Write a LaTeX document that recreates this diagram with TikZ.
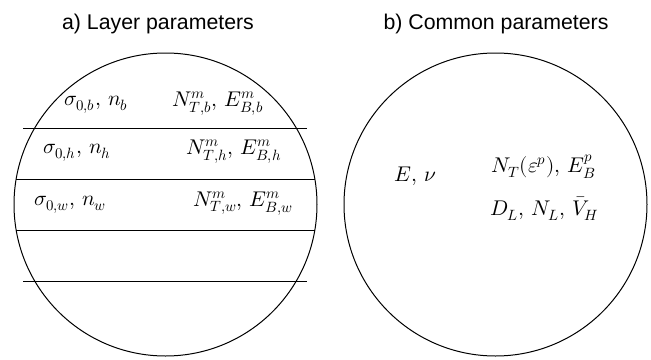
\documentclass[tikz,border=0pt]{standalone}
\usepackage{fontspec}
\usepackage{unicode-math}
\setmathfont{Latin Modern Math}
\newfontfamily\titlefont{Liberation Sans}
\begin{document}
\begin{tikzpicture}[x=1pt,y=-1pt,
  ring/.style={draw,line width=1pt},
  layer/.style={line width=1pt},
  ttl/.style={font=\titlefont\fontsize{21.3}{24}\selectfont,inner sep=0pt,anchor=base},
  mth/.style={font=\fontsize{21.3}{25}\selectfont,inner sep=0pt}]
\useasboundingbox (0,0) rectangle (651,359);
% titles
\node[ttl] (ta) at (158,29) {a) Layer parameters};
\node[ttl] (tb) at (496,29) {b) Common parameters};
% circles
\node[ring,circle,minimum size=303pt,inner sep=0pt] (ca) at (165.5,204.5) {};
\node[ring,circle,minimum size=303pt,inner sep=0pt] (cb) at (495.5,204.5) {};
% layer lines
\coordinate (l1a) at (23,128); \coordinate (l1b) at (307,128);
\coordinate (l2a) at (16,179); \coordinate (l2b) at (315,179);
\coordinate (l3a) at (16,230); \coordinate (l3b) at (315,230);
\coordinate (l4a) at (23,281); \coordinate (l4b) at (307,281);
\draw[layer] (l1a) -- (l1b);
\draw[layer] (l2a) -- (l2b);
\draw[layer] (l3a) -- (l3b);
\draw[layer] (l4a) -- (l4b);
% layer texts
\node[mth,anchor=base west] (s1) at (64,105) {$\sigma_{0,b},\, n_b$};
\node[mth,anchor=base west] (n1) at (172,106) {$N^m_{T,b},\, E^m_{B,b}$};
\node[mth,anchor=base west] (s2) at (43,153) {$\sigma_{0,h},\, n_h$};
\node[mth,anchor=base west] (n2) at (186,154) {$N^m_{T,h},\, E^m_{B,h}$};
\node[mth,anchor=base west] (s3) at (34,205) {$\sigma_{0,w},\, n_w$};
\node[mth,anchor=base west] (n3) at (193,206) {$N^m_{T,w},\, E^m_{B,w}$};
% common texts
\node[mth,anchor=base west] (e) at (394,181) {$E,\, \nu$};
\node[mth,anchor=base west] (nt) at (491,172) {$N_T(\varepsilon^p),\, E^p_B$};
\node[mth,anchor=base west] (dl) at (490,215) {$D_L,\, N_L,\, \bar{V}_H$};
\end{tikzpicture}
\end{document}
